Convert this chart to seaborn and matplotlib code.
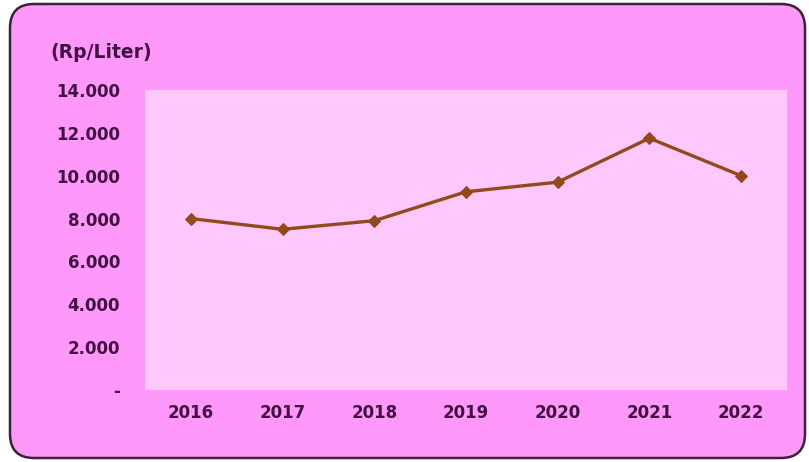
import matplotlib
matplotlib.use("Agg")
import matplotlib.pyplot as plt
from matplotlib.patches import FancyBboxPatch
from matplotlib.transforms import IdentityTransform
from matplotlib.ticker import FuncFormatter
import seaborn as sns
import pandas as pd

# Average price per liter, by year
years = [2016, 2017, 2018, 2019, 2020, 2021, 2022]
price = [8000, 7500, 7900, 9250, 9700, 11750, 10000]
y_ticks = [0, 2000, 4000, 6000, 8000, 10000, 12000, 14000]
unit_label = "(Rp/Liter)"

df = pd.DataFrame({"year": years, "price": price})

sns.set_theme(style="white")
plt.rcParams["font.family"] = ["DejaVu Sans"]

W, H = 809, 462
fig = plt.figure(figsize=(W / 100, H / 100), dpi=100, facecolor="white")

# rounded pink panel behind the chart (pixel coordinates)
panel = FancyBboxPatch((10, 4), 795, 454,
                       boxstyle="round,pad=0,rounding_size=24",
                       transform=IdentityTransform(),
                       facecolor="#ff98fa", edgecolor="#3b2234",
                       linewidth=1.8, zorder=-10)
fig.patches.append(panel)

left, right, top, bottom = 145, 787, 90, 390
ax = fig.add_axes([left / W, 1 - bottom / H, (right - left) / W, (bottom - top) / H])
ax.set_zorder(1)
ax.set_facecolor("#ffc8fd")

sns.lineplot(data=df, x="year", y="price", ax=ax, color="#924a1c",
             linewidth=2.4, marker="D", markersize=6.5,
             markeredgecolor="#924a1c", zorder=3)

ax.set_xlim(years[0] - 0.5, years[-1] + 0.5)
ax.set_ylim(y_ticks[0], y_ticks[-1])
ax.set_xticks(years)
ax.set_yticks(y_ticks)
ax.yaxis.set_major_formatter(FuncFormatter(
    lambda v, _: "-" if v == 0 else f"{int(v):,}".replace(",", ".")))

text_color = "#3f1240"
ax.tick_params(axis="y", length=0, pad=18, labelsize=12, labelcolor=text_color)
ax.tick_params(axis="x", length=0, pad=10, labelsize=12, labelcolor=text_color)
for lab in ax.get_xticklabels() + ax.get_yticklabels():
    lab.set_fontweight("bold")

ax.set_xlabel("")
ax.set_ylabel("")
for s in ax.spines.values():
    s.set_visible(False)
ax.grid(False)

fig.text(50 / W, 1 - 52 / H, unit_label, fontsize=13.5, fontweight="bold",
         color=text_color, ha="left", va="center")

fig.savefig("out.png", dpi=100, facecolor="white")
